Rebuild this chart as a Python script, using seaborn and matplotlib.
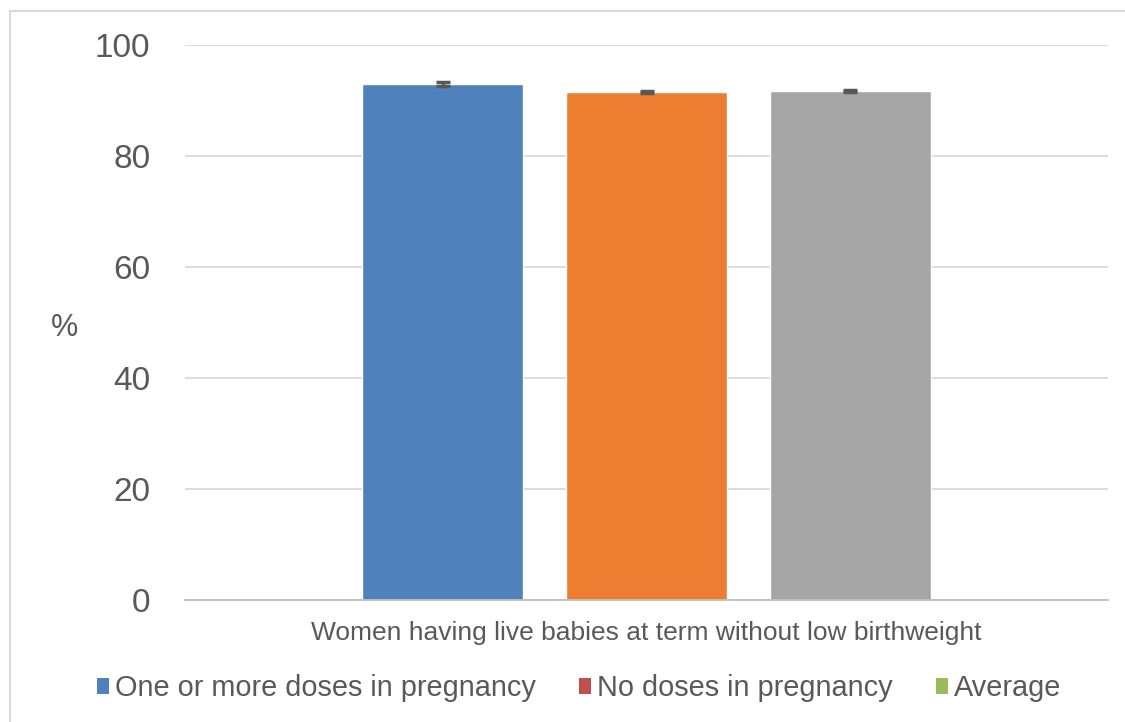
import matplotlib
matplotlib.use("Agg")
import matplotlib.pyplot as plt
from matplotlib.patches import Patch, Rectangle
import pandas as pd
import seaborn as sns

# Data
category = ["Women having live babies at term without low birthweight"]
groups = ["One or more doses in pregnancy", "No doses in pregnancy", "Average"]
values = [93.0, 91.5, 91.7]
errors = [0.3, 0.2, 0.2]

bar_colors = ["#4F81BD", "#ED7D31", "#A5A5A5"]
legend_colors = ["#4F81BD", "#C0504D", "#9BBB59"]
TEXT = "#595959"

df = pd.DataFrame({"cat": category * len(groups), "group": groups, "value": values})

sns.set_theme(style="white")
plt.rcParams["font.family"] = ["Liberation Sans", "DejaVu Sans"]

fig = plt.figure(figsize=(11.25, 7.22), dpi=100)
ax = fig.add_axes([185 / 1125, 122 / 722, 923 / 1125, 555 / 722])

sns.barplot(data=df, x="cat", y="value", hue="group", hue_order=groups,
            palette=bar_colors, width=0.663, gap=0.21, errorbar=None,
            saturation=1, legend=False, ax=ax)

# error bars at the centres of the drawn bars
bars = sorted(ax.patches, key=lambda p: p.get_x())
xs = [b.get_x() + b.get_width() / 2 for b in bars]
ax.errorbar(xs, values, yerr=errors, fmt="none", ecolor=TEXT,
            elinewidth=2.5, capsize=5, capthick=2.5)

ax.set_ylim(0, 100)
ax.set_xlim(-0.5, 0.5)
ax.set_yticks(range(0, 101, 20))
ax.yaxis.grid(True, color="#D9D9D9", linewidth=1.3)
ax.set_axisbelow(True)
for s in ["top", "right", "left"]:
    ax.spines[s].set_visible(False)
ax.spines["bottom"].set_color("#BFBFBF")
ax.spines["bottom"].set_linewidth(1.3)
ax.tick_params(axis="y", length=0, pad=25, labelsize=24, labelcolor=TEXT)
ax.tick_params(axis="x", length=0, pad=15, labelsize=19, labelcolor=TEXT)
ax.set_xlabel("")
ax.set_ylabel("%", fontsize=22, color=TEXT, rotation=0, va="center", ha="center")
ax.yaxis.set_label_coords(-0.131, 0.49)

handles = [Patch(facecolor=c, edgecolor="none") for c in legend_colors]
fig.legend(handles, groups, loc="center", bbox_to_anchor=(0.515, 0.047),
           ncol=3, frameon=False, fontsize=20.8, labelcolor=TEXT,
           handlelength=0.42, handleheight=0.45, handletextpad=0.2,
           columnspacing=1.5)

# thin outer border as in the original export
fig.patches.append(Rectangle((10 / 1125, -0.05), 1.1, (722 - 11) / 722 + 0.05,
                             transform=fig.transFigure, fill=False,
                             edgecolor="#D9D9D9", linewidth=1.5))

fig.savefig("out.png", dpi=100)
